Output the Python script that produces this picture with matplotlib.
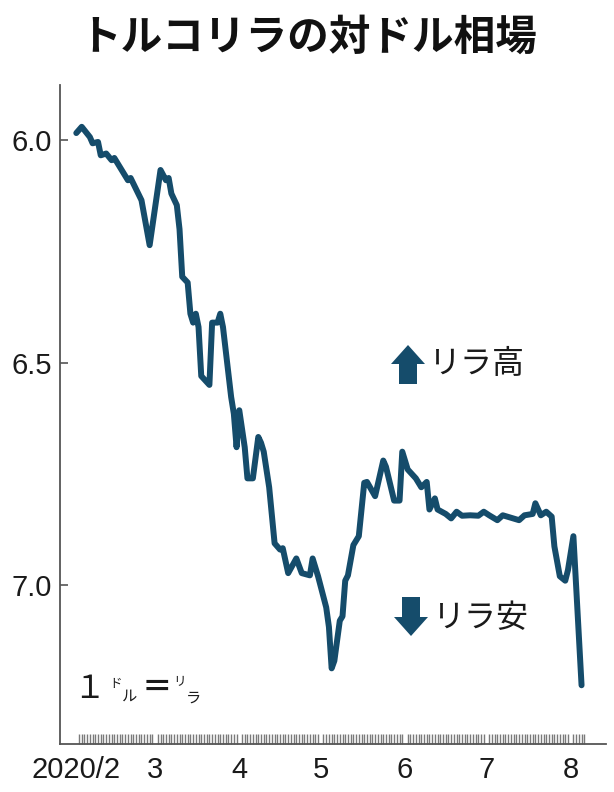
import matplotlib
matplotlib.use('Agg')
import matplotlib.pyplot as plt
from matplotlib.patches import Polygon
import pandas as pd

# ---------------- data ----------------
dates = [
    '2020-02-01', '2020-02-03', '2020-02-06', '2020-02-07', '2020-02-09', '2020-02-10',
    '2020-02-12', '2020-02-14', '2020-02-15', '2020-02-17', '2020-02-20', '2020-02-21',
    '2020-02-25', '2020-02-28', '2020-03-03', '2020-03-05', '2020-03-06', '2020-03-07',
    '2020-03-09', '2020-03-10', '2020-03-11', '2020-03-13', '2020-03-14', '2020-03-15',
    '2020-03-16', '2020-03-17', '2020-03-18', '2020-03-21', '2020-03-22', '2020-03-24',
    '2020-03-25', '2020-03-26', '2020-03-29', '2020-03-30', '2020-03-31', '2020-04-01',
    '2020-04-03', '2020-04-04', '2020-04-06', '2020-04-08', '2020-04-09', '2020-04-10',
    '2020-04-12', '2020-04-14', '2020-04-16', '2020-04-17', '2020-04-19', '2020-04-22',
    '2020-04-24', '2020-04-27', '2020-04-28', '2020-04-30', '2020-05-03', '2020-05-04',
    '2020-05-05', '2020-05-06', '2020-05-08', '2020-05-09', '2020-05-10', '2020-05-11',
    '2020-05-13', '2020-05-15', '2020-05-17', '2020-05-18', '2020-05-21', '2020-05-24',
    '2020-05-25', '2020-05-28', '2020-05-30', '2020-05-31', '2020-06-02', '2020-06-05',
    '2020-06-07', '2020-06-09', '2020-06-10', '2020-06-12', '2020-06-13', '2020-06-16',
    '2020-06-18', '2020-06-20', '2020-06-22', '2020-06-25', '2020-06-28', '2020-06-30',
    '2020-07-02', '2020-07-05', '2020-07-07', '2020-07-13', '2020-07-15', '2020-07-18',
    '2020-07-19', '2020-07-21', '2020-07-23', '2020-07-25', '2020-07-26', '2020-07-28',
    '2020-07-30', '2020-07-31', '2020-08-02', '2020-08-05',
]
rates = [
    5.984, 5.970, 5.993, 6.007, 6.004, 6.034,
    6.030, 6.045, 6.040, 6.060, 6.090, 6.085,
    6.135, 6.236, 6.067, 6.090, 6.085, 6.120,
    6.146, 6.200, 6.307, 6.320, 6.390, 6.410,
    6.390, 6.420, 6.530, 6.550, 6.410, 6.410,
    6.390, 6.420, 6.577, 6.615, 6.690, 6.607,
    6.690, 6.760, 6.760, 6.667, 6.680, 6.700,
    6.780, 6.906, 6.920, 6.917, 6.973, 6.940,
    6.973, 6.978, 6.940, 6.980, 7.050, 7.094,
    7.187, 7.170, 7.080, 7.070, 6.990, 6.978,
    6.910, 6.890, 6.770, 6.768, 6.800, 6.720,
    6.734, 6.810, 6.810, 6.700, 6.740, 6.760,
    6.780, 6.768, 6.830, 6.805, 6.830, 6.840,
    6.850, 6.835, 6.844, 6.843, 6.844, 6.835,
    6.843, 6.854, 6.843, 6.854, 6.843, 6.840,
    6.816, 6.843, 6.835, 6.846, 6.913, 6.980,
    6.990, 6.966, 6.890, 7.225,
]
month_ticks = ['2020-02-01', '2020-03-01', '2020-04-01', '2020-05-01',
               '2020-06-01', '2020-07-01', '2020-08-01']
month_labels = ['2020/2', '3', '4', '5', '6', '7', '8']
y_ticks = [6.0, 6.5, 7.0]
y_labels = ['6.0', '6.5', '7.0']

title = 'トルコリラの対ドル相場'
up_label = 'リラ高'
down_label = 'リラ安'

# ---------------- style ----------------
W, H = 614, 792
LINE = '#154c6b'
TXT = '#1a1a1a'
AXC = '#555555'
CJK = ['Noto Sans CJK JP', 'DejaVu Sans']
LAT = ['Liberation Sans', 'DejaVu Sans']

def fx(x):
    return x / W

def fy(y):
    return 1 - y / H

fig = plt.figure(figsize=(W / 100, H / 100), dpi=100)
fig.patch.set_facecolor('white')
ax = fig.add_axes([fx(60), fy(744), (606 - 60) / W, (744 - 85) / H])

x = pd.to_datetime(dates)
ax.plot(x, rates, color=LINE, lw=4.3, solid_joinstyle='round',
        solid_capstyle='round', zorder=3)

ax.set_xlim(pd.Timestamp('2020-01-26'), pd.Timestamp('2020-08-14'))
ax.set_ylim(7.357, 5.876)

for s in ['top', 'right']:
    ax.spines[s].set_visible(False)
for s in ['left', 'bottom']:
    ax.spines[s].set_color(AXC)
    ax.spines[s].set_linewidth(1.3)

ax.set_yticks(y_ticks)
ax.set_yticklabels(y_labels, family=LAT, fontsize=21, color=TXT)
ax.tick_params(axis='y', direction='in', length=6, width=1.2, color=AXC, pad=6)

ax.set_xticks(pd.to_datetime(month_ticks))
ax.set_xticklabels(month_labels, family=LAT, fontsize=21, color=TXT)
ax.tick_params(axis='x', which='major', length=0, pad=9)
ax.set_xticks(pd.date_range('2020-02-01', '2020-08-06'), minor=True)
ax.tick_params(axis='x', which='minor', direction='in', length=7, width=1.0,
               color='#7a7a7a')

# title
fig.text(fx(308), fy(38), title, ha='center', va='center', fontsize=30,
         fontweight='bold', family=CJK, color='#111111')

# arrows
def block_arrow(cx, tip, base, end, hw, sw):
    pts = [(cx, tip), (cx + hw, base), (cx + sw, base), (cx + sw, end),
           (cx - sw, end), (cx - sw, base), (cx - hw, base)]
    return Polygon([(fx(a), fy(b)) for a, b in pts], closed=True,
                   transform=fig.transFigure, facecolor=LINE, edgecolor='none')

fig.patches.append(block_arrow(408, 345, 364, 384, 17, 9))
fig.patches.append(block_arrow(411, 636, 617, 597, 17, 9))

fig.text(fx(429), fy(364), up_label, ha='left', va='center', fontsize=23,
         family=CJK, color=TXT)
fig.text(fx(433), fy(618), down_label, ha='left', va='center', fontsize=23,
         family=CJK, color=TXT)

# unit note: 1ドル=リラ
fig.text(fx(73), fy(689), '１', ha='left', va='center', fontsize=23, family=CJK, color=TXT)
fig.text(fx(109), fy(683), 'ド', ha='left', va='center', fontsize=9, family=CJK, color=TXT)
fig.text(fx(122), fy(696), 'ル', ha='left', va='center', fontsize=11, family=CJK, color=TXT)
fig.text(fx(142), fy(688), '＝', ha='left', va='center', fontsize=22, family=CJK,
         fontweight='bold', color=TXT)
fig.text(fx(173), fy(682), 'リ', ha='left', va='center', fontsize=9, family=CJK, color=TXT)
fig.text(fx(186), fy(698), 'ラ', ha='left', va='center', fontsize=11, family=CJK, color=TXT)

fig.savefig('out.png', dpi=100, facecolor='white')
